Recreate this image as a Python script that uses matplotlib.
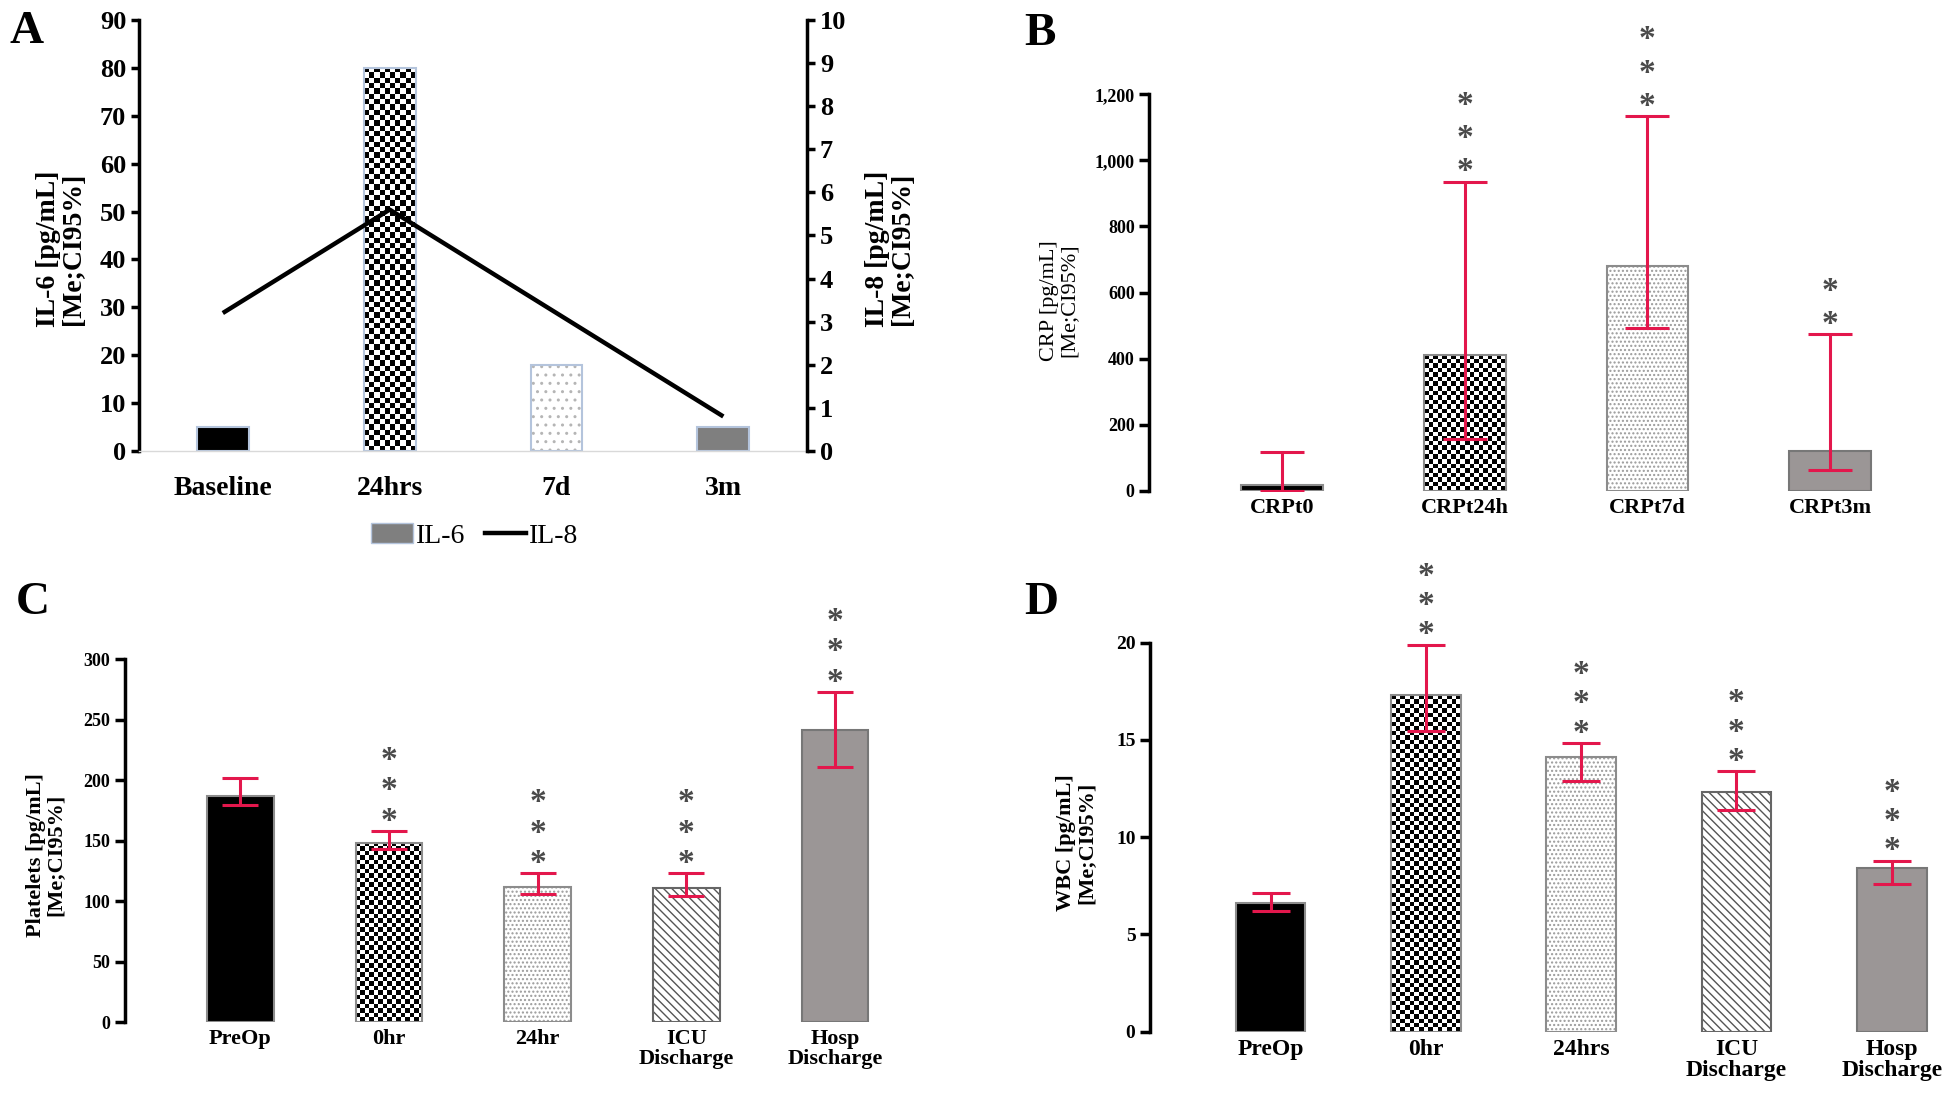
import numpy as np
import matplotlib
matplotlib.use('Agg')
import matplotlib.pyplot as plt
from matplotlib.patches import Patch
from matplotlib.lines import Line2D
from matplotlib.ticker import StrMethodFormatter

plt.rcParams['font.family'] = ['Liberation Serif', 'DejaVu Serif']
plt.rcParams['font.weight'] = 'bold'
plt.rcParams['axes.labelweight'] = 'bold'
plt.rcParams['hatch.linewidth'] = 1.0

# ---- data ----
a_cats = ['Baseline', '24hrs', '7d', '3m']
il6 = [5, 80, 18, 5]
il8 = [3.2, 5.6, 3.2, 0.8]

b_cats = ['CRPt0', 'CRPt24h', 'CRPt7d', 'CRPt3m']
crp = [16, 412, 681, 121]
crp_lo = [0, 156, 493, 63]
crp_hi = [118, 936, 1134, 474]
crp_stars = [0, 3, 3, 2]

c_cats = ['PreOp', '0hr', '24hr', 'ICU\nDischarge', 'Hosp\nDischarge']
platelets = [187, 148, 112, 111, 242]
platelets_lo = [180, 143, 106, 104, 211]
platelets_hi = [202, 158, 123, 123, 273]
platelets_stars = [0, 3, 3, 3, 3]

d_cats = ['PreOp', '0hr', '24hrs', 'ICU\nDischarge', 'Hosp\nDischarge']
wbc = [6.6, 17.3, 14.1, 12.3, 8.4]
wbc_lo = [6.2, 15.45, 12.9, 11.4, 7.6]
wbc_hi = [7.15, 19.9, 14.85, 13.4, 8.8]
wbc_stars = [0, 3, 3, 3, 3]

RED = '#e3174c'
STAR = '#4a4a4a'
EDGE = '#8c8c8c'
BLUE_EDGE = '#b4c4dc'


def checker(ax, bar, cell_px):
    x0 = bar.get_x()
    x1 = x0 + bar.get_width()
    y0 = bar.get_y()
    y1 = y0 + bar.get_height()
    (px0, py0), (px1, py1) = ax.transData.transform([(x0, y0), (x1, y1)])
    nx = max(1, int(round(abs(px1 - px0) / cell_px)))
    ny = max(1, int(round(abs(py1 - py0) / cell_px)))
    board = np.add.outer(np.arange(ny), np.arange(nx)) % 2
    im = ax.imshow(board, cmap='gray', vmin=0, vmax=1, extent=(x0, x1, y0, y1),
                   aspect='auto', interpolation='nearest', zorder=0.9)
    im.set_clip_path(bar)


def styled_bars(ax, x, vals, styles, width, edge, cell_px, dots='....', dot_col='#9a9a9a'):
    for xi, v, st in zip(x, vals, styles):
        if st == 'black':
            ax.bar(xi, v, width, color='black', edgecolor=edge, linewidth=1.5, zorder=1)
        elif st == 'gray':
            ax.bar(xi, v, width, color='#7f7f7f', edgecolor=edge, linewidth=1.5, zorder=1)
        elif st == 'gray2':
            ax.bar(xi, v, width, color='#9b9696', edgecolor='#777777', linewidth=1.5, zorder=1)
        elif st == 'checker':
            b = ax.bar(xi, v, width, facecolor='none', edgecolor=edge, linewidth=1.5, zorder=1)
            checker(ax, b.patches[0], cell_px)
        elif st == 'dots':
            ax.bar(xi, v, width, color='white', edgecolor=dot_col, hatch=dots, linewidth=0, zorder=1)
            ax.bar(xi, v, width, fill=False, edgecolor=edge, linewidth=1.5, zorder=1.1)
        elif st == 'diag':
            ax.bar(xi, v, width, color='white', edgecolor='#555555', hatch='\\\\\\\\', linewidth=0, zorder=1)
            ax.bar(xi, v, width, fill=False, edgecolor='#666666', linewidth=1.5, zorder=1.1)


def stars(ax, x, tops, counts, fs=24, base=7, step=22):
    for xi, t, n in zip(x, tops, counts):
        for k in range(n):
            ax.annotate('*', xy=(xi, t), xytext=(0, base + k * step), textcoords='offset points',
                        ha='center', va='center', fontsize=fs, color=STAR, annotation_clip=False)


def left_only(ax, ticksize):
    for s in ['top', 'right', 'bottom']:
        ax.spines[s].set_visible(False)
    ax.spines['left'].set_linewidth(2.5)
    ax.tick_params(axis='y', direction='out', length=7, width=2.5, labelsize=ticksize)
    ax.tick_params(axis='x', length=0, labelsize=16, pad=5)


fig = plt.figure(figsize=(19.44, 10.98), dpi=100)

# ---- A ----
axA = fig.add_axes([0.0717, 0.5893, 0.3433, 0.3925])
xa = np.arange(len(a_cats))
axA.set_xlim(-0.5, 3.5)
axA.set_ylim(0, 90)
styled_bars(axA, xa, il6, ['black', 'checker', 'dots', 'gray'], 0.31, BLUE_EDGE, 5.3,
            dots='..', dot_col='#b5b5b5')
axA.set_xlim(-0.5, 3.5)
axA.set_ylim(0, 90)
axA.set_yticks(np.arange(0, 91, 10))
axA.set_xticks(xa)
axA.set_xticklabels(a_cats)
for s in ['top', 'right']:
    axA.spines[s].set_visible(False)
axA.spines['bottom'].set_color('#d9d9d9')
axA.spines['bottom'].set_linewidth(1)
axA.spines['left'].set_linewidth(2.5)
axA.tick_params(axis='y', direction='out', length=6, width=2.5, labelsize=19)
axA.tick_params(axis='x', length=0, labelsize=20, pad=18)
axA.set_ylabel('IL-6 [pg/mL]\n[Me;CI95%]', fontsize=20, linespacing=1.0)
axA.yaxis.set_label_coords(-0.08, 0.47)

axA2 = axA.twinx()
axA2.plot(xa, il8, color='black', linewidth=3.2, solid_capstyle='butt')
axA2.set_ylim(0, 10)
axA2.set_yticks(np.arange(0, 11, 1))
for s in ['top', 'left', 'bottom']:
    axA2.spines[s].set_visible(False)
axA2.spines['right'].set_linewidth(2.5)
axA2.tick_params(axis='y', direction='out', length=6, width=2.5, labelsize=19)
axA2.set_ylabel('IL-8 [pg/mL]\n[Me;CI95%]', fontsize=20, linespacing=1.0)
axA2.yaxis.set_label_coords(1.088, 0.47)

handles = [Patch(facecolor='#7f7f7f', edgecolor=BLUE_EDGE), Line2D([], [], color='black', linewidth=3.2)]
fig.legend(handles, ['IL-6', 'IL-8'], loc='center', bbox_to_anchor=(0.2443, 0.512), ncol=2,
           frameon=False, prop={'size': 20, 'weight': 'normal'}, handlelength=1.5,
           handletextpad=0.1, columnspacing=0.7)

# ---- B ----
axB = fig.add_axes([0.5912, 0.5531, 0.3972, 0.361])
xb = np.arange(len(b_cats))
axB.set_xlim(-0.727, 3.5)
axB.set_ylim(0, 1200)
styled_bars(axB, xb, crp, ['black', 'checker', 'dots', 'gray2'], 0.447, EDGE, 4.5)
crp_a = np.array(crp)
axB.errorbar(xb, crp, yerr=[crp_a - crp_lo, np.array(crp_hi) - crp_a], fmt='none', ecolor=RED,
             elinewidth=2.2, capsize=16, capthick=2.2, zorder=3)
stars(axB, xb, crp_hi, crp_stars, step=24)
axB.set_xlim(-0.727, 3.5)
axB.set_ylim(0, 1200)
axB.set_yticks(np.arange(0, 1201, 200))
axB.yaxis.set_major_formatter(StrMethodFormatter('{x:,.0f}'))
axB.set_xticks(xb)
axB.set_xticklabels(b_cats)
left_only(axB, 13)
axB.set_ylabel('CRP [pg/mL]\n[Me;CI95%]', fontsize=16, fontweight='normal', linespacing=1.0)
axB.yaxis.set_label_coords(-0.092, 0.48)

# ---- C ----
axC = fig.add_axes([0.0643, 0.0690, 0.3958, 0.3305])
xc = np.arange(len(c_cats))
axC.set_xlim(-0.775, 4.4)
axC.set_ylim(0, 300)
styled_bars(axC, xc, platelets, ['black', 'checker', 'dots', 'diag', 'gray2'], 0.449, EDGE, 4.5)
pl_a = np.array(platelets)
axC.errorbar(xc, platelets, yerr=[pl_a - platelets_lo, np.array(platelets_hi) - pl_a], fmt='none',
             ecolor=RED, elinewidth=2.2, capsize=13.2, capthick=2.2, zorder=3)
stars(axC, xc, platelets_hi, platelets_stars)
axC.set_xlim(-0.775, 4.4)
axC.set_ylim(0, 300)
axC.set_yticks(np.arange(0, 301, 50))
axC.set_xticks(xc)
axC.set_xticklabels(c_cats, linespacing=1.0)
left_only(axC, 13)
axC.set_ylabel('Platelets [pg/mL]\n[Me;CI95%]', fontsize=16, linespacing=1.0)
axC.yaxis.set_label_coords(-0.077, 0.46)

# ---- D ----
axD = fig.add_axes([0.5916, 0.0604, 0.4015, 0.3543])
xd = np.arange(len(d_cats))
axD.set_xlim(-0.776, 4.25)
axD.set_ylim(0, 20)
styled_bars(axD, xd, wbc, ['black', 'checker', 'dots', 'diag', 'gray2'], 0.449, EDGE, 4.5)
wbc_a = np.array(wbc)
axD.errorbar(xd, wbc, yerr=[wbc_a - wbc_lo, np.array(wbc_hi) - wbc_a], fmt='none', ecolor=RED,
             elinewidth=2.2, capsize=13.8, capthick=2.2, zorder=3)
stars(axD, xd, wbc_hi, wbc_stars, step=21)
axD.set_xlim(-0.776, 4.25)
axD.set_ylim(0, 20)
axD.set_yticks(np.arange(0, 21, 5))
axD.set_xticks(xd)
axD.set_xticklabels(d_cats, linespacing=1.0)
left_only(axD, 14)
axD.tick_params(axis='x', labelsize=17)
axD.set_ylabel('WBC [pg/mL]\n[Me;CI95%]', fontsize=16, linespacing=1.0)
axD.yaxis.set_label_coords(-0.069, 0.485)

# panel letters
for lx, ly, letter in [(0.005, 0.961, 'A'), (0.527, 0.959, 'B'), (0.008, 0.441, 'C'), (0.527, 0.441, 'D')]:
    fig.text(lx, ly, letter, fontsize=34, fontweight='bold', va='baseline', ha='left')

fig.savefig('out.png', dpi=100)
